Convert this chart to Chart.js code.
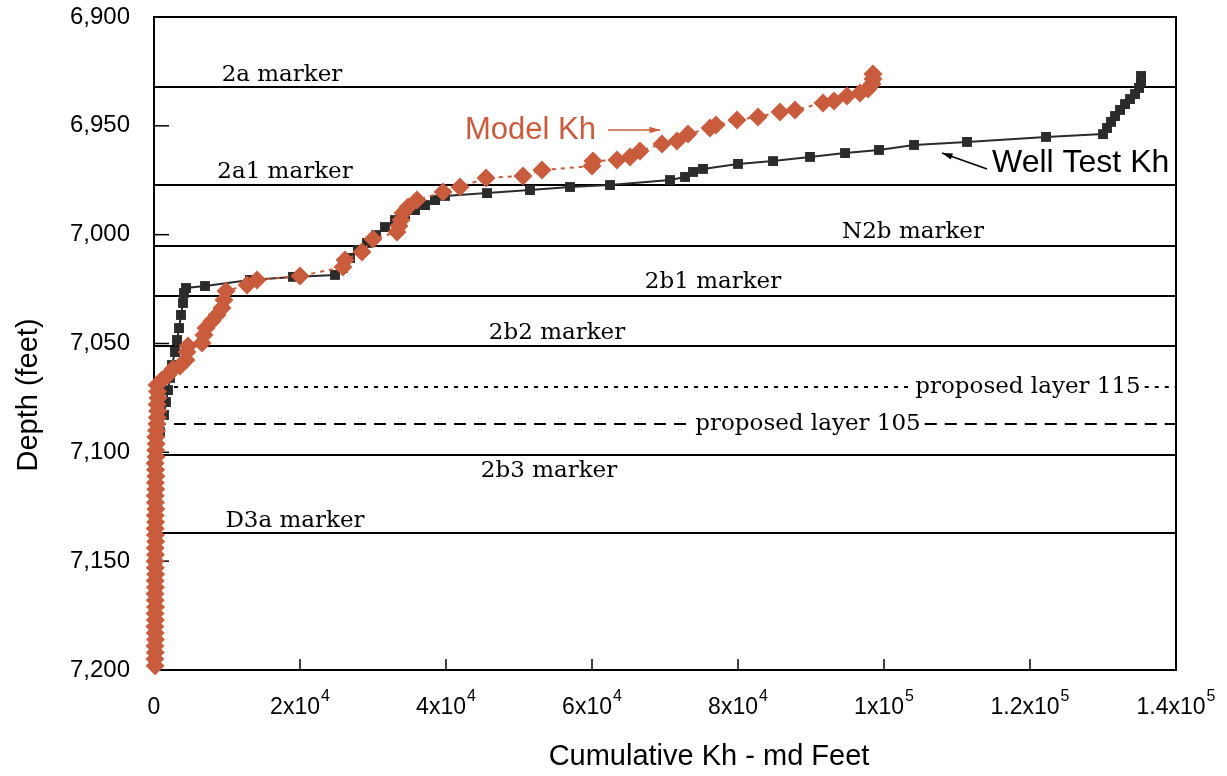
<!DOCTYPE html>
<html>
<head>
<meta charset="utf-8">
<script src="https://cdn.jsdelivr.net/npm/chart.js@4/dist/chart.umd.min.js"></script>
<style>
  html, body { margin: 0; padding: 0; background: #fff; }
  #wrap { width: 1227px; height: 776px; }
</style>
</head>
<body>
<div id="wrap"><canvas id="c" width="1227" height="776"></canvas></div>
<script>
// Well test cumulative Kh (md-ft) vs depth (ft), bottom to top
const wellKh = [411, 822, 1370, 1644, 1918, 2192, 2466, 2877, 3151, 3425, 3699, 3973, 4110, 4384,
  6986, 13151, 19041, 24795, 25891, 26850, 27946, 29179, 30412, 31645, 33015, 34385, 35755, 37125,
  38495, 39864, 45617, 51508, 56988, 62467, 70687, 72742, 73838, 75208, 80002, 84797, 89865, 94660,
  99318, 104112, 111373, 122195, 130003, 130551, 131099, 131647, 132332, 133017, 133702, 134387,
  134935, 135209, 135209]
const wellDepth = [7097.5, 7090.7, 7082.8, 7076.9, 7071.4, 7065.8, 7059.9, 7053.9, 7048.4, 7042.9,
  7036.9, 7031.4, 7026.8, 7024.5, 7023.6, 7020.8, 7019.4, 7018.5, 7015.3, 7010.7, 7007.0, 7003.8,
  7000.2, 6996.5, 6993.3, 6991.0, 6988.7, 6986.4, 6984.1, 6982.2, 6980.9, 6979.5, 6978.1, 6977.2,
  6974.9, 6973.5, 6971.2, 6969.8, 6967.5, 6966.2, 6964.3, 6962.5, 6961.1, 6958.8, 6957.4, 6955.1,
  6953.8, 6951.0, 6948.2, 6945.5, 6942.7, 6940.0, 6937.7, 6935.4, 6932.6, 6929.9, 6927.1]

// Model cumulative Kh, bottom to top
const modelKh = [150, 120, 180, 140, 200, 160, 130, 190, 150, 210, 170, 140, 200, 160, 220, 180,
  150, 210, 170, 230, 190, 160, 220, 180, 250, 200, 170, 240, 190, 260, 210, 150, 280, 230, 300,
  250, 350, 400, 450, 500, 420, 550, 480,
  411, 1096, 1918, 2603, 3562, 4384, 4521, 4658, 6576, 6850, 7123, 7945, 8630, 9315, 9589, 9863,
  12740, 14110, 20001, 25891, 26165, 28494, 30001, 33289, 33563, 33837, 34111, 34796, 36029, 39590,
  41919, 45480, 50549, 53151, 60001, 60138, 63426, 65207, 66577, 69591, 71646, 73153, 76167, 76989,
  79866, 82743, 85757, 87811, 91647, 93154, 94934, 96715, 97811, 98359, 98496, 98496]
const modelDepth = [7198, 7195, 7192, 7189, 7186, 7183, 7180, 7177, 7174, 7171, 7168, 7165, 7162,
  7159, 7156, 7153, 7150, 7147, 7144, 7141, 7138, 7135, 7132, 7129, 7126, 7123, 7120, 7117, 7114,
  7111, 7108, 7105, 7102, 7099, 7096, 7093, 7090, 7087, 7084, 7081, 7078, 7075, 7072,
  7069.1, 7066.8, 7064.5, 7061.7, 7060.3, 7057.6, 7053.9, 7051.1, 7049.8, 7046.1, 7042.9, 7039.7,
  7036.9, 7033.7, 7030.0, 7025.9, 7023.1, 7020.8, 7019.0, 7014.9, 7011.6, 7008.0, 7002.0, 6998.8,
  6996.0, 6993.3, 6990.0, 6987.3, 6984.1, 6980.4, 6978.1, 6974.0, 6973.0, 6970.3, 6968.5, 6966.2,
  6965.7, 6964.3, 6961.6, 6958.3, 6957.0, 6953.8, 6951.0, 6949.6, 6947.3, 6945.9, 6943.6, 6942.7,
  6939.5, 6938.6, 6936.3, 6934.9, 6933.1, 6930.8, 6928.5, 6926.2]

// formation markers
const markerNames = ['2a marker', '2a1 marker', 'N2b marker', '2b1 marker', '2b2 marker', '2b3 marker', 'D3a marker']
const markerDepths = [6932, 6977, 7005, 7028, 7051, 7101, 7137]
const layerNames = ['proposed layer 115', 'proposed layer 105']
const layerDepths = [7070, 7087]

// axis tick labels
const xTickBase = ['0', '2x10', '4x10', '6x10', '8x10', '1x10', '1.2x10', '1.4x10']
const xTickExp = ['', '4', '4', '4', '4', '5', '5', '5']

// label placement (data x, pixel offset from line)
const markerLabelX = [17535, 17946, 103975, 76577, 55207, 54111, 19315]
const markerLabelDy = [-12, -13, -14, -14, -13, 16, -12]
const layerLabelX = [119729, 89591]

const ORANGE = '#c95c3c'
const DARK = '#2b2b2b'
const SANS = '"Liberation Sans", Arial, sans-serif'

const overlay = {
  id: 'overlay',
  beforeDatasetsDraw(chart) {
    const { ctx, chartArea: a, scales: { x, y } } = chart
    ctx.save()
    ctx.strokeStyle = '#000'
    ctx.fillStyle = '#000'
    ctx.lineWidth = 2
    // frame
    ctx.strokeRect(a.left, a.top, a.right - a.left, a.bottom - a.top)
    // inward ticks
    ctx.lineWidth = 1.5
    y.ticks.forEach(t => {
      const py = y.getPixelForValue(t.value)
      ctx.beginPath(); ctx.moveTo(a.left, py); ctx.lineTo(a.left + 15, py); ctx.stroke()
    })
    x.ticks.forEach(t => {
      const px = x.getPixelForValue(t.value)
      ctx.beginPath(); ctx.moveTo(px, a.bottom); ctx.lineTo(px, a.bottom - 11); ctx.stroke()
    })
    // marker lines
    ctx.lineWidth = 2
    ctx.font = '23px "DejaVu Serif", serif'
    ctx.textAlign = 'center'
    ctx.textBaseline = 'middle'
    markerDepths.forEach((d, i) => {
      const py = Math.round(y.getPixelForValue(d))
      ctx.beginPath()
      ctx.moveTo(a.left, py)
      ctx.lineTo(a.right, py)
      ctx.stroke()
      ctx.fillText(markerNames[i], x.getPixelForValue(markerLabelX[i]), py + markerLabelDy[i])
    })
    const dashes = [[4, 6], [12, 8]]
    layerDepths.forEach((d, i) => {
      const py = Math.round(y.getPixelForValue(d))
      const lx = x.getPixelForValue(layerLabelX[i])
      const w = ctx.measureText(layerNames[i]).width
      ctx.setLineDash(dashes[i])
      ctx.beginPath()
      ctx.moveTo(a.left, py)
      ctx.lineTo(lx - w / 2 - 4, py)
      ctx.moveTo(lx + w / 2 + 4, py)
      ctx.lineTo(a.right, py)
      ctx.stroke()
      ctx.setLineDash([])
      ctx.fillText(layerNames[i], lx, py)
    })
    ctx.restore()
  },
  afterDraw(chart) {
    const { ctx, scales: { x, y } } = chart
    ctx.save()
    // x tick labels with exponents
    ctx.fillStyle = '#000'
    ctx.textBaseline = 'alphabetic'
    ctx.textAlign = 'left'
    x.ticks.forEach((t, i) => {
      const px = x.getPixelForValue(t.value)
      ctx.font = '23px ' + SANS
      const wb = ctx.measureText(xTickBase[i]).width
      ctx.font = '16px ' + SANS
      const we = xTickExp[i] ? ctx.measureText(xTickExp[i]).width + 1 : 0
      const x0 = px - (wb + we) / 2
      ctx.font = '23px ' + SANS
      ctx.fillText(xTickBase[i], x0, 714)
      if (xTickExp[i]) {
        ctx.font = '16px ' + SANS
        ctx.fillText(xTickExp[i], x0 + wb + 1, 701)
      }
    })
    // axis titles
    ctx.font = '29px ' + SANS
    ctx.textAlign = 'center'
    ctx.textBaseline = 'middle'
    ctx.fillText('Cumulative Kh - md Feet', 709, 757)
    ctx.save()
    ctx.translate(29, 395)
    ctx.rotate(-Math.PI / 2)
    ctx.fillText('Depth (feet)', 0, 0)
    ctx.restore()
    // series annotations
    ctx.textAlign = 'left'
    ctx.font = '31px ' + SANS
    ctx.fillStyle = ORANGE
    ctx.fillText('Model Kh', x.getPixelForValue(42604), y.getPixelForValue(6951.9))
    ctx.font = '32px ' + SANS
    ctx.fillStyle = '#000'
    ctx.fillText('Well Test Kh', x.getPixelForValue(114797), y.getPixelForValue(6967.1))
    const arrow = (x1, y1, x2, y2, col) => {
      const ang = Math.atan2(y2 - y1, x2 - x1)
      ctx.strokeStyle = col
      ctx.fillStyle = col
      ctx.lineWidth = 1.5
      ctx.beginPath(); ctx.moveTo(x1, y1); ctx.lineTo(x2, y2); ctx.stroke()
      ctx.beginPath()
      ctx.moveTo(x2, y2)
      ctx.lineTo(x2 - 11 * Math.cos(ang - 0.3), y2 - 11 * Math.sin(ang - 0.3))
      ctx.lineTo(x2 - 11 * Math.cos(ang + 0.3), y2 - 11 * Math.sin(ang + 0.3))
      ctx.closePath(); ctx.fill()
    }
    const my = y.getPixelForValue(6951.9)
    arrow(x.getPixelForValue(62193), my, x.getPixelForValue(69317), my, ORANGE)
    arrow(x.getPixelForValue(114112), y.getPixelForValue(6969.8),
          x.getPixelForValue(107947), y.getPixelForValue(6962.5), '#000')
    ctx.restore()
  }
}

const toPoints = (xs, ys) => xs.map((v, i) => ({ x: v, y: ys[i] }))

new Chart(document.getElementById('c'), {
  type: 'scatter',
  data: {
    datasets: [
      {
        label: 'Model Kh',
        data: toPoints(modelKh, modelDepth),
        showLine: true,
        clip: false,
        borderColor: ORANGE,
        backgroundColor: ORANGE,
        borderWidth: 2,
        borderDash: [4, 5],
        pointStyle: 'rectRot',
        pointRadius: 9.5,
        pointBorderWidth: 0,
        order: 0
      },
      {
        label: 'Well Test Kh',
        data: toPoints(wellKh, wellDepth),
        showLine: true,
        clip: false,
        borderColor: DARK,
        backgroundColor: DARK,
        borderWidth: 2,
        pointStyle: 'rect',
        pointRadius: 7,
        pointBorderWidth: 0,
        order: 1
      }
    ]
  },
  options: {
    responsive: false,
    animation: false,
    devicePixelRatio: 1,
    layout: { padding: { top: 17, right: 51, left: 0, bottom: 0 } },
    plugins: { legend: { display: false }, tooltip: { enabled: false } },
    scales: {
      x: {
        type: 'linear',
        min: 0,
        max: 140000,
        ticks: { stepSize: 20000, display: false },
        grid: { display: false },
        border: { display: false },
        afterFit(s) { s.height = 106; s.paddingLeft = 0; s.paddingRight = 0 }
      },
      y: {
        type: 'linear',
        reverse: true,
        min: 6900,
        max: 7200,
        ticks: {
          stepSize: 50,
          padding: 24,
          color: '#000',
          font: { family: SANS, size: 24 },
          callback: v => v.toLocaleString('en-US')
        },
        grid: { display: false, drawTicks: false },
        border: { display: false },
        afterFit(s) { s.width = 154; s.paddingTop = 0; s.paddingBottom = 0 }
      }
    }
  },
  plugins: [overlay]
})
</script>
</body>
</html>
